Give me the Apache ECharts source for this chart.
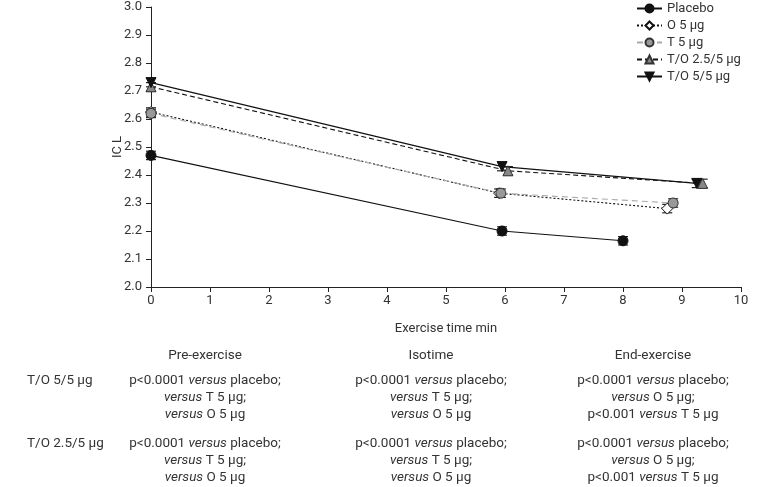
<!DOCTYPE html>
<html><head><meta charset="utf-8">
<script src="https://cdn.jsdelivr.net/npm/echarts@6/dist/echarts.min.js"></script>
<style>html,body{margin:0;padding:0;background:#fff}#c{width:766px;height:487px}</style>
</head><body><div id="c"></div>
<script>
// ---- data ----
const seriesNames = ['Placebo', 'O 5 μg', 'T 5 μg', 'T/O 2.5/5 μg', 'T/O 5/5 μg'];
const timePlacebo = [0, 5.95, 8.0];
const icPlacebo   = [2.47, 2.20, 2.165];
const timeO5 = [0, 5.9, 8.75];
const icO5   = [2.625, 2.335, 2.28];
const timeT5 = [0, 5.93, 8.85];
const icT5   = [2.62, 2.335, 2.30];
const timeTO25 = [0, 6.05, 9.35];
const icTO25   = [2.715, 2.415, 2.37];
const timeTO55 = [0, 5.95, 9.25];
const icTO55   = [2.73, 2.43, 2.37];
const errPlacebo = [0.015, 0.015, 0.015];
const errO5 = [0.015, 0.015, 0.015];
const errT5 = [0.015, 0.015, 0.015];
const errTO25 = [0.015, 0.015, 0.015];
const errTO55 = [0.015, 0.015, 0.015];
const xTicks = [0,1,2,3,4,5,6,7,8,9,10];
const yTicks = [2.0,2.1,2.2,2.3,2.4,2.5,2.6,2.7,2.8,2.9,3.0];

const tableHeaders = ['Pre-exercise', 'Isotime', 'End-exercise'];
const tableRowLabels = ['T/O 5/5 μg', 'T/O 2.5/5 μg'];
const tableCells = [
  [
    ['p<0.0001 {it|versus} placebo;', '{it|versus} T 5 μg;', '{it|versus} O 5 μg'],
    ['p<0.0001 {it|versus} placebo;', '{it|versus} T 5 μg;', '{it|versus} O 5 μg'],
    ['p<0.0001 {it|versus} placebo;', '{it|versus} O 5 μg;', 'p<0.001 {it|versus} T 5 μg']
  ],
  [
    ['p<0.0001 {it|versus} placebo;', '{it|versus} T 5 μg;', '{it|versus} O 5 μg'],
    ['p<0.0001 {it|versus} placebo;', '{it|versus} T 5 μg;', '{it|versus} O 5 μg'],
    ['p<0.0001 {it|versus} placebo;', '{it|versus} O 5 μg;', 'p<0.001 {it|versus} T 5 μg']
  ]
];

// ---- build ----
const FONT = 'Roboto';
const TXT = '#333';
const TFS = 13.5;
const pairs = (xs, ys) => xs.map((x, i) => [x, ys[i]]);
const errs = (xs, ys, es) => xs.map((x, i) => [x, ys[i], es[i]]);

function errSeries(data, color) {
  return {
    type: 'custom', silent: true, z: 1,
    data: data,
    renderItem: function (params, api) {
      const x = api.value(0), y = api.value(1), e = api.value(2);
      const lo = api.coord([x, y - e]), hi = api.coord([x, y + e]);
      const w = 5;
      const st = { stroke: color, lineWidth: 1.2 };
      return { type: 'group', children: [
        { type: 'line', shape: { x1: lo[0], y1: lo[1], x2: hi[0], y2: hi[1] }, style: st },
        { type: 'line', shape: { x1: lo[0]-w, y1: lo[1], x2: lo[0]+w, y2: lo[1] }, style: st },
        { type: 'line', shape: { x1: hi[0]-w, y1: hi[1], x2: hi[0]+w, y2: hi[1] }, style: st }
      ]};
    }
  };
}

const lineDefs = [
  { name: seriesNames[0], data: pairs(timePlacebo, icPlacebo), symbol: 'circle', size: 10, color: '#111', border: '#111', line: '#111', type: 'solid', rot: 0 },
  { name: seriesNames[1], data: pairs(timeO5, icO5), symbol: 'diamond', size: 11, color: '#fff', border: '#111', line: '#111', type: [2, 2], rot: 0 },
  { name: seriesNames[2], data: pairs(timeT5, icT5), symbol: 'circle', size: 10, color: '#999', border: '#333', line: '#aaa', type: [6, 4], rot: 0 },
  { name: seriesNames[3], data: pairs(timeTO25, icTO25), symbol: 'triangle', size: 10, color: '#888', border: '#333', line: '#111', type: [5, 3], rot: 0 },
  { name: seriesNames[4], data: pairs(timeTO55, icTO55), symbol: 'triangle', size: 10, color: '#111', border: '#111', line: '#111', type: 'solid', rot: 180 }
];

const series = [
  errSeries(errs(timePlacebo, icPlacebo, errPlacebo), '#222'),
  errSeries(errs(timeO5, icO5, errO5), '#222'),
  errSeries(errs(timeT5, icT5, errT5), '#222'),
  errSeries(errs(timeTO25, icTO25, errTO25), '#222'),
  errSeries(errs(timeTO55, icTO55, errTO55), '#222')
];
lineDefs.forEach(d => series.push({
  type: 'line', name: d.name, data: d.data, z: 3,
  symbol: d.symbol, symbolSize: d.size, symbolRotate: d.rot, showAllSymbol: true,
  lineStyle: { color: d.line, width: 1.1, type: d.type },
  itemStyle: { color: d.color, borderColor: d.border, borderWidth: 1 },
  emphasis: { disabled: true }, animation: false
}));

const graphics = [];
const colX = [205, 431, 653];
tableHeaders.forEach((h, i) => graphics.push({
  type: 'text', x: colX[i], y: 356,
  style: { text: h, font: TFS + 'px ' + FONT, fill: TXT, align: 'center', verticalAlign: 'middle' }
}));
const rowY = [[381, 398, 415], [444, 461, 478]];
tableRowLabels.forEach((lab, r) => {
  graphics.push({ type: 'text', x: 27, y: rowY[r][0],
    style: { text: lab, font: TFS + 'px ' + FONT, fill: TXT, align: 'left', verticalAlign: 'middle' } });
  tableCells[r].forEach((cell, c) => cell.forEach((ln, k) => graphics.push({
    type: 'text', x: colX[c], y: rowY[r][k],
    style: { text: ln, font: TFS + 'px ' + FONT, fill: TXT, align: 'center', verticalAlign: 'middle',
      rich: { it: { fontStyle: 'italic', fontFamily: FONT, fontSize: TFS, fill: TXT } } }
  })));
});

const chart = echarts.init(document.getElementById('c'), null, { renderer: 'canvas' });
chart.setOption({
  animation: false,
  backgroundColor: '#fff',
  textStyle: { fontFamily: FONT },
  grid: { left: 151, right: 25, top: 7, bottom: 200, containLabel: false },
  legend: {
    data: seriesNames, orient: 'vertical', left: 636, top: 2, padding: 0,
    itemWidth: 25, itemHeight: 10, itemGap: 4,
    textStyle: { fontFamily: FONT, fontSize: 13, color: TXT }
  },
  xAxis: {
    type: 'value', min: 0, max: 10, interval: 1,
    name: 'Exercise time min', nameLocation: 'middle', nameGap: 35, nameMoveOverlap: false,
    nameTextStyle: { fontFamily: FONT, fontSize: 13, color: TXT },
    axisLine: { lineStyle: { color: '#222', width: 1 } },
    axisTick: { show: true, length: 5, lineStyle: { color: '#222' } },
    axisLabel: { fontFamily: FONT, fontSize: 13, color: TXT, margin: 7, formatter: v => xTicks.includes(v) ? String(v) : '' },
    splitLine: { show: false }
  },
  yAxis: {
    type: 'value', min: 2.0, max: 3.0, interval: 0.1,
    name: 'IC L', nameLocation: 'middle', nameGap: 27, nameRotate: 90, nameMoveOverlap: false,
    nameTextStyle: { fontFamily: FONT, fontSize: 13, color: TXT },
    axisLine: { show: true, lineStyle: { color: '#222', width: 1 } },
    axisTick: { show: true, length: 5, lineStyle: { color: '#222' } },
    axisLabel: { fontFamily: FONT, fontSize: 13, color: TXT, margin: 9, formatter: v => yTicks.find(t => Math.abs(t - v) < 1e-6).toFixed(1) },
    splitLine: { show: false }
  },
  series: series,
  graphic: graphics
});
</script></body></html>
